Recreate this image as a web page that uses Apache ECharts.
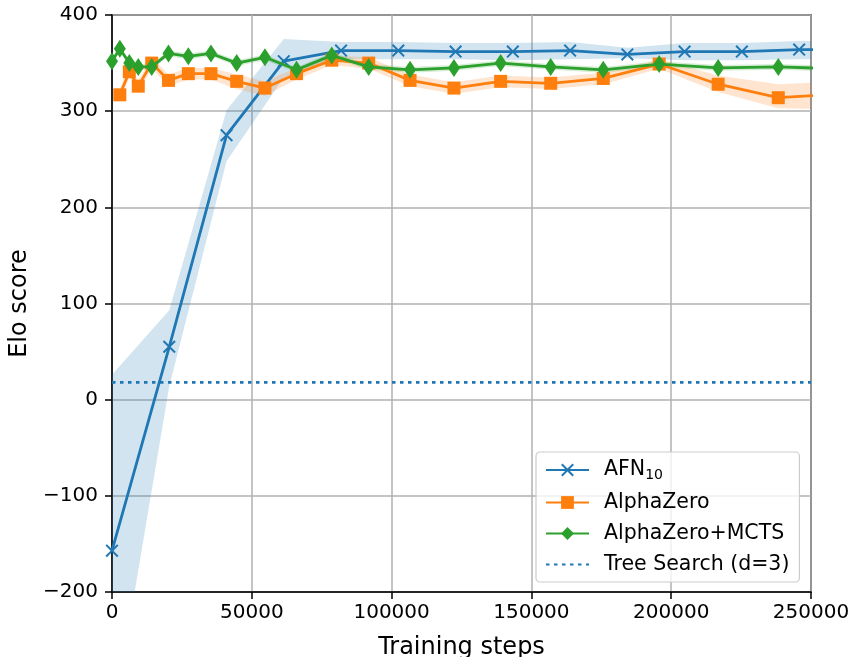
<!DOCTYPE html>
<html>
<head>
<meta charset="utf-8">
<script src="https://cdn.jsdelivr.net/npm/echarts@6/dist/echarts.min.js"></script>
<style>
  html, body { margin: 0; padding: 0; background: #fff; }
  #chart { width: 854px; height: 657px; }
</style>
</head>
<body>
<div id="chart"></div>
<script>
// AFN_10 (x markers)
const afnSteps = [0, 20480, 40960, 61440, 81920, 102400, 122880, 143360, 163840, 184320, 204800, 225280, 245760, 266240];
const afnElo   = [-157, 55, 275, 352, 363, 363, 362, 362, 363, 359, 362, 362, 364, 364];
const afnLow   = [-340, 14, 248, 335, 354, 354, 354, 353, 354, 355, 353, 353, 354, 354];
const afnHigh  = [26, 93, 301, 375, 372, 372, 371, 371, 372, 366, 371, 371, 373, 373];

// AlphaZero (squares)
const azSteps = [2800, 6200, 9400, 14200, 20200, 27300, 35400, 44600, 54700, 66000, 78600, 91800, 106600, 122300, 139000, 156900, 175700, 195700, 216800, 238300, 260500];
const azElo   = [317, 341, 326, 350, 332, 339, 339, 331, 324, 339, 353, 350, 332, 324, 331, 329, 334, 349, 328, 314, 318];
const azLow   = [311, 335, 320, 344, 326, 333, 333, 323, 316, 333, 348, 344, 326, 318, 325, 323, 328, 344, 320, 303, 302];
const azHigh  = [323, 347, 332, 356, 338, 345, 345, 338, 331, 345, 358, 356, 338, 330, 337, 335, 340, 354, 337, 328, 331];

// AlphaZero+MCTS (thin diamonds)
const mcSteps = [0, 2800, 6200, 9400, 14200, 20200, 27300, 35400, 44600, 54700, 66000, 78600, 91800, 106600, 122300, 139000, 156900, 175700, 195700, 216800, 238300, 260500];
const mcElo   = [352, 365, 350, 346, 346, 360, 357, 360, 350, 356, 343, 358, 346, 343, 345, 350, 346, 343, 349, 345, 346, 344];
const mcLow   = [349, 362, 347, 343, 343, 357, 354, 357, 347, 353, 340, 355, 343, 340, 342, 347, 343, 340, 346, 342, 343, 341];
const mcHigh  = [355, 368, 353, 349, 349, 363, 360, 363, 353, 359, 346, 361, 349, 346, 348, 353, 349, 346, 352, 348, 349, 347];

// Tree search baseline
const treeSteps = [0, 250000];
const treeElo = [18, 18];

const xTicks = [0, 50000, 100000, 150000, 200000, 250000];
const yTicks = [-200, -100, 0, 100, 200, 300, 400];

const BLUE = '#1f77b4', ORANGE = '#ff7f0e', GREEN = '#2ca02c';
const FONT = 'DejaVu Sans';
const xMarker = 'path://M0,1.3L1.3,0L6,4.7L10.7,0L12,1.3L7.3,6L12,10.7L10.7,12L6,7.3L1.3,12L0,10.7L4.7,6Z';

const zip = (xs, ys) => xs.map((x, i) => [x, ys[i]]);

function band(xs, lo, hi, color) {
  return {
    type: 'custom',
    silent: true,
    clip: true,
    z: 1,
    data: [0],
    renderItem: (params, api) => {
      const top = xs.map((x, i) => api.coord([x, hi[i]]));
      const bot = xs.map((x, i) => api.coord([x, lo[i]])).reverse();
      return {
        type: 'polygon',
        shape: { points: top.concat(bot) },
        style: { fill: color, opacity: 0.2 }
      };
    }
  };
}

const chart = echarts.init(document.getElementById('chart'), null, { renderer: 'canvas' });

const option = {
  animation: false,
  textStyle: { fontFamily: FONT },
  grid: {
    left: 112, right: 43, top: 15, bottom: 65,
    outerBoundsMode: 'none', containLabel: false,
    show: true, borderColor: '#000', borderWidth: 1.5, backgroundColor: 'transparent'
  },
  xAxis: {
    type: 'value',
    min: xTicks[0], max: xTicks[xTicks.length - 1], interval: 50000,
    name: 'Training steps',
    nameLocation: 'middle', nameGap: 44,
    nameTextStyle: { fontSize: 24, color: '#000', fontFamily: FONT },
    axisLine: { show: true, onZero: false, lineStyle: { color: '#000', width: 1.5 } },
    axisTick: { show: true, length: 7, lineStyle: { color: '#000', width: 1.5 } },
    axisLabel: {
      fontSize: 20, color: '#000', margin: 11, fontFamily: FONT,
      showMinLabel: true, showMaxLabel: true,
      formatter: v => String(v)
    },
    splitLine: { show: true, lineStyle: { color: '#b0b0b0', width: 1.5 } }
  },
  yAxis: {
    type: 'value',
    min: yTicks[0], max: yTicks[yTicks.length - 1], interval: 100,
    name: 'Elo score',
    nameLocation: 'middle', nameGap: 63,
    nameTextStyle: { fontSize: 24, color: '#000', fontFamily: FONT },
    axisLine: { show: true, onZero: false, lineStyle: { color: '#000', width: 1.5 } },
    axisTick: { show: true, length: 7, lineStyle: { color: '#000', width: 1.5 } },
    axisLabel: {
      fontSize: 20, color: '#000', margin: 14, fontFamily: FONT,
      formatter: v => v < 0 ? '\u2212' + (-v) : String(v)
    },
    splitLine: { show: true, lineStyle: { color: '#b0b0b0', width: 1.5 } }
  },
  legend: {
    orient: 'vertical',
    left: 536, top: 452,
    padding: [6, 10, 7, 9],
    itemGap: 10,
    itemWidth: 43, itemHeight: 16,
    backgroundColor: 'rgba(255,255,255,0.8)',
    borderColor: '#cccccc', borderWidth: 1.2, borderRadius: 4,
    data: [
      'AFN10', 'AlphaZero', 'AlphaZero+MCTS',
      { name: 'Tree Search (d=3)', itemStyle: { opacity: 0 } }
    ],
    formatter: name => name === 'AFN10' ? '{n|AFN}{s|10}' : '{n|' + name + '}',
    textStyle: {
      fontSize: 20.5, color: '#000', fontFamily: FONT, padding: [0, 0, 0, 10],
      rich: {
        n: { fontSize: 20.5, lineHeight: 24, fontFamily: FONT, color: '#000' },
        s: { fontSize: 14, lineHeight: 14, padding: [10, 0, 0, 0], fontFamily: FONT, color: '#000' }
      }
    }
  },
  series: [
    band(afnSteps, afnLow, afnHigh, BLUE),
    band(azSteps, azLow, azHigh, ORANGE),
    band(mcSteps, mcLow, mcHigh, GREEN),
    {
      name: 'AFN10', type: 'line', z: 3,
      data: zip(afnSteps, afnElo),
      symbol: xMarker, symbolSize: 13,
      itemStyle: { color: BLUE },
      lineStyle: { color: BLUE, width: 2.8 }
    },
    {
      name: 'AlphaZero', type: 'line', z: 4,
      data: zip(azSteps, azElo),
      symbol: 'rect', symbolSize: 13,
      itemStyle: { color: ORANGE },
      lineStyle: { color: ORANGE, width: 2.8 }
    },
    {
      name: 'AlphaZero+MCTS', type: 'line', z: 5,
      data: zip(mcSteps, mcElo),
      symbol: 'diamond', symbolSize: [12, 18],
      itemStyle: { color: GREEN },
      lineStyle: { color: GREEN, width: 2.8 }
    },
    {
      name: 'Tree Search (d=3)', type: 'line', z: 2,
      data: zip(treeSteps, treeElo),
      symbol: 'none',
      itemStyle: { color: BLUE },
      lineStyle: { color: BLUE, width: 2.8, type: [3.5, 4.5] }
    }
  ]
};

chart.setOption(option);
</script>
</body>
</html>
